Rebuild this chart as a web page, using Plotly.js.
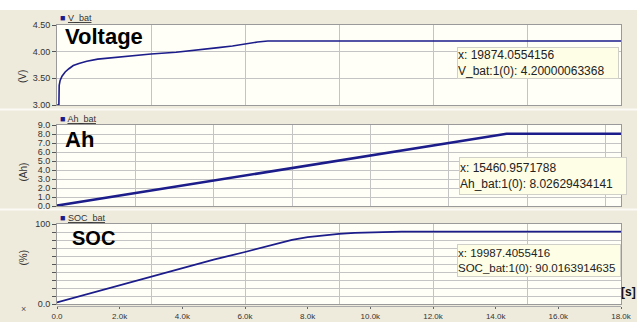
<!DOCTYPE html>
<html>
<head>
<meta charset="utf-8">
<script src="https://cdn.plot.ly/plotly-3.0.1.min.js"></script>
<style>html,body{margin:0;padding:0;background:#fff;}#chart{width:637px;height:322px;}</style>
</head>
<body>
<div id="chart"></div>
<script>
// ---- data (time in seconds) ----
const tV   = [0, 60, 70, 100, 160, 260, 380, 520, 700, 950, 1300, 1900, 2500, 3000, 3800, 4560, 5150, 5600, 6030, 6400, 6730, 18000];
const vBat = [3.0, 3.0, 3.37, 3.46, 3.54, 3.62, 3.68, 3.74, 3.78, 3.82, 3.86, 3.895, 3.925, 3.955, 3.99, 4.03, 4.075, 4.105, 4.15, 4.18, 4.2, 4.2];

const tAh   = [0, 14350, 18000];
const ahBat = [0.05, 8.03, 8.03];

const tSoc   = [0, 1000, 2000, 3000, 4000, 5000, 6000, 6500, 7000, 7500, 8000, 8500, 9000, 9500, 10200, 11000, 18000];
const socBat = [2, 12.8, 23.6, 34.5, 45, 55.5, 65, 70.3, 75.3, 80.2, 83.6, 86, 87.6, 88.8, 90, 90.5, 90.5];

const xTickVals = [0, 2000, 4000, 6000, 8000, 10000, 12000, 14000, 16000, 18000];
const xTickText = ["0.0", "2.0k", "4.0k", "6.0k", "8.0k", "10.0k", "12.0k", "14.0k", "16.0k", "18.0k"];
const xGridV   = [3000, 6000, 9000, 12000, 15000];
const xGridAh  = [2500, 5000, 7500, 10000, 12500, 15000, 17500];
const xGridSoc = [3000, 6000, 9000, 12000, 15000];

const vTickVals = [3.0, 3.5, 4.0, 4.5];
const vTickText = ["3.00", "3.50", "4.00", "4.50"];
const ahTickVals = [0, 1, 2, 3, 4, 5, 6, 7, 8, 9];
const ahTickText = ["0.0", "1.0", "2.0", "3.0", "4.0", "5.0", "6.0", "7.0", "8.0", "9.0"];
const socTickVals = [0, 10, 20, 30, 40, 50, 60, 70, 80, 90, 100];
const socTickText = ["0.0", "", "", "", "", "", "", "", "", "", "100"];

const seriesNames = ["V_bat", "Ah_bat", "SOC_bat"];
const panelLabels = ["Voltage", "Ah", "SOC"];
const unitLabels = ["(V)", "(Ah)", "(%)"];
const readouts = [
  "x: 19874.0554156<br>V_bat:1(0): 4.20000063368",
  "x: 15460.9571788<br>Ah_bat:1(0): 8.02629434141",
  "x: 19987.4055416<br>SOC_bat:1(0): 90.0163914635"
];

// ---- layout helpers ----
const W = 637, H = 322;
const px = v => v / W;
const py = v => 1 - v / H;
const lineCol = '#1c1c8a';
const gridCol = '#c4c4c4';
const borderCol = '#9a9a9a';
const tickFont = {family: 'Liberation Sans, Arial, sans-serif', size: 9, color: '#333'};
const xDom = [px(57), px(621)];

const traces = [
  {x: tV, y: vBat, xaxis: 'x', yaxis: 'y', mode: 'lines', line: {color: lineCol, width: 1.6}, name: seriesNames[0], hoverinfo: 'skip'},
  {x: tAh, y: ahBat, xaxis: 'x2', yaxis: 'y2', mode: 'lines', line: {color: lineCol, width: 2.6}, name: seriesNames[1], hoverinfo: 'skip'},
  {x: tSoc, y: socBat, xaxis: 'x3', yaxis: 'y3', mode: 'lines', line: {color: lineCol, width: 1.8}, name: seriesNames[2], hoverinfo: 'skip'},
  {x: [0], y: [null], xaxis: 'x4', yaxis: 'y3', mode: 'lines', showlegend: false, hoverinfo: 'skip'}
];

function xAxis(anchor, grid) {
  return {domain: xDom, anchor: anchor, range: [0, 18000], tickvals: grid, showticklabels: false,
          ticks: '', showgrid: true, gridcolor: gridCol, gridwidth: 1, zeroline: false,
          showline: true, mirror: true, linecolor: borderCol, linewidth: 1, fixedrange: true};
}
function yAxis(anchor, dom, range, vals, text) {
  return {domain: dom, anchor: anchor, range: range, tickvals: vals, ticktext: text,
          ticks: 'outside', ticklen: 4, tickcolor: '#555', tickfont: tickFont,
          showgrid: true, gridcolor: gridCol, gridwidth: 1, zeroline: false,
          showline: true, mirror: true, linecolor: borderCol, linewidth: 1, fixedrange: true};
}

const annFont = {family: 'Liberation Sans, Arial, sans-serif', color: '#1a1a1a'};
const annotations = [];
// unit labels
[[68, 0], [172, 1], [268, 2]].forEach(([yy, i]) => annotations.push({
  xref: 'paper', yref: 'paper', x: px(15), y: py(yy), text: unitLabels[i], showarrow: false,
  textangle: -90, font: {family: 'Liberation Sans, Arial, sans-serif', size: 10, color: '#333'}
}));
// legend-like headers
[[18, 0], [119, 1], [218, 2]].forEach(([yy, i]) => annotations.push({
  xref: 'paper', yref: 'paper', x: px(58), y: py(yy), xanchor: 'left', yanchor: 'middle',
  text: "<span style='color:" + lineCol + "'>■</span> <u>" + seriesNames[i] + "</u>", showarrow: false,
  font: {family: 'Liberation Sans, Arial, sans-serif', size: 9, color: '#333'}
}));
// big panel labels
[[63, 36, 22, 0], [63, 139, 22, 1], [70, 238, 20, 2]].forEach(([xx, yy, sz, i]) => annotations.push({
  xref: 'paper', yref: 'paper', x: px(xx), y: py(yy), xanchor: 'left', yanchor: 'middle',
  text: '<b>' + panelLabels[i] + '</b>', showarrow: false,
  font: Object.assign({}, annFont, {size: sz, color: '#000'})
}));
// readout boxes
[[457, 47, 160, 30, 12, 0], [459, 157, 166, 36, 12, 1], [457, 244, 162, 31, 11.5, 2]].forEach(([xx, yy, w, h, sz, i]) => annotations.push({
  xref: 'paper', yref: 'paper', x: px(xx), y: py(yy), xanchor: 'left', yanchor: 'top',
  width: w, height: h, align: 'left', valign: 'middle',
  text: readouts[i], showarrow: false, bgcolor: '#fefde6', bordercolor: '#d0d0c8', borderwidth: 1, borderpad: 0,
  font: Object.assign({}, annFont, {size: sz, color: '#222'})
}));
annotations.push({xref: 'paper', yref: 'paper', x: px(19), y: py(316), text: '×', showarrow: false,
  font: {family: 'Liberation Sans, Arial, sans-serif', size: 9, color: '#555'}});
annotations.push({xref: 'paper', yref: 'paper', x: 1, y: py(300), xanchor: 'right', text: '<b>[s]</b>', showarrow: false,
  borderpad: 0, font: {family: 'Liberation Sans, Arial, sans-serif', size: 12, color: '#111'}});

const shapes = [
  {type: 'rect', xref: 'paper', yref: 'paper', x0: 0, x1: 1, y0: py(10), y1: 1, fillcolor: '#ffffff', line: {width: 0}, layer: 'below'},
  {type: 'rect', xref: 'paper', yref: 'paper', x0: 0, x1: 1, y0: py(110.5), y1: py(108.5), fillcolor: '#fbfaf5', line: {width: 0}, layer: 'below'},
  {type: 'rect', xref: 'paper', yref: 'paper', x0: 0, x1: 1, y0: py(210.5), y1: py(208.5), fillcolor: '#fbfaf5', line: {width: 0}, layer: 'below'}
];

const layout = {
  width: W, height: H, margin: {l: 0, r: 0, t: 0, b: 0},
  paper_bgcolor: '#eeebdd', plot_bgcolor: '#fffff8',
  showlegend: false,
  xaxis: xAxis('y', xGridV),
  xaxis2: xAxis('y2', xGridAh),
  xaxis3: xAxis('y3', xGridSoc),
  xaxis4: {domain: xDom, overlaying: 'x3', anchor: 'free', position: py(306), range: [0, 18000],
           tickvals: xTickVals, ticktext: xTickText, ticks: 'outside', ticklen: 2, tickcolor: '#666',
           tickfont: {family: 'Liberation Sans, Arial, sans-serif', size: 8, color: '#333'},
           showgrid: false, zeroline: false, showline: true, linecolor: '#aaa', fixedrange: true},
  yaxis: yAxis('x', [py(105), py(25)], [3, 4.5], vTickVals, vTickText),
  yaxis2: yAxis('x2', [py(206), py(125)], [0, 9], ahTickVals, ahTickText),
  yaxis3: yAxis('x3', [py(304), py(224)], [0, 100], socTickVals, socTickText),
  annotations: annotations,
  shapes: shapes
};

Plotly.newPlot('chart', traces, layout, {staticPlot: true, displayModeBar: false});
</script>
</body>
</html>
